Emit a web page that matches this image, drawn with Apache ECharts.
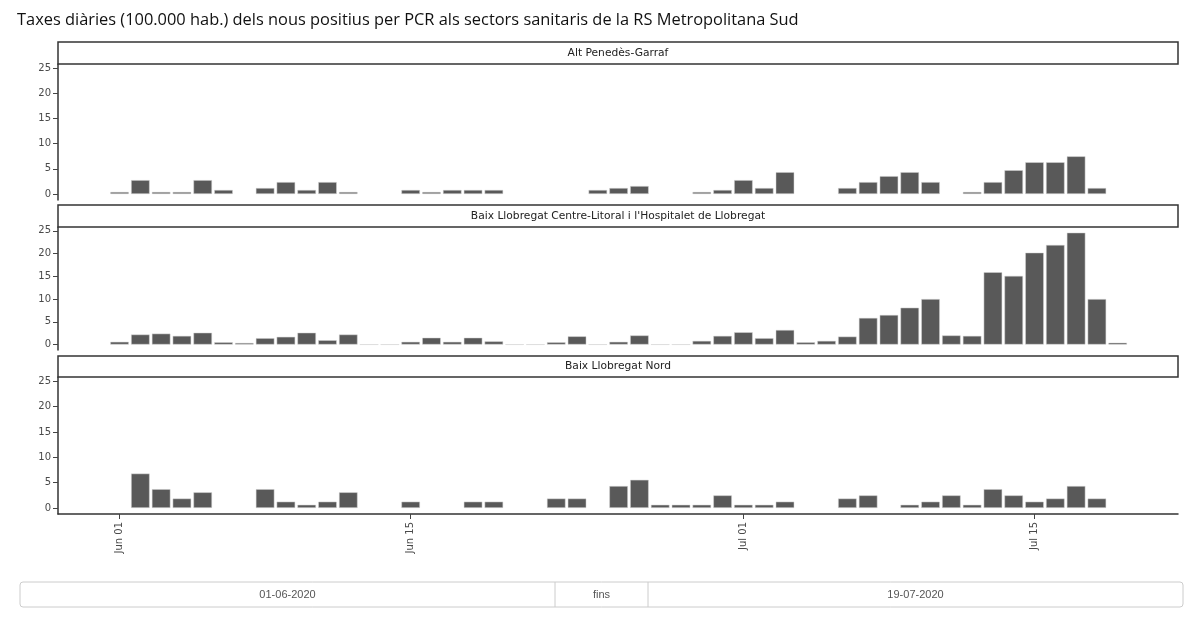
<!DOCTYPE html>
<html>
<head>
<meta charset="utf-8">
<script src="https://cdn.jsdelivr.net/npm/echarts@6/dist/echarts.min.js"></script>
<style>
  html, body { margin: 0; padding: 0; background: #fff; }
  #chart { width: 1200px; height: 622px; }
</style>
</head>
<body>
<div id="chart"></div>
<script>
// dies (categories)
const dates = [
  '2020-06-01','2020-06-02','2020-06-03','2020-06-04','2020-06-05','2020-06-06','2020-06-07',
  '2020-06-08','2020-06-09','2020-06-10','2020-06-11','2020-06-12','2020-06-13','2020-06-14',
  '2020-06-15','2020-06-16','2020-06-17','2020-06-18','2020-06-19','2020-06-20','2020-06-21',
  '2020-06-22','2020-06-23','2020-06-24','2020-06-25','2020-06-26','2020-06-27','2020-06-28',
  '2020-06-29','2020-06-30','2020-07-01','2020-07-02','2020-07-03','2020-07-04','2020-07-05',
  '2020-07-06','2020-07-07','2020-07-08','2020-07-09','2020-07-10','2020-07-11','2020-07-12',
  '2020-07-13','2020-07-14','2020-07-15','2020-07-16','2020-07-17','2020-07-18','2020-07-19'
];

// sectors (facet strips)
const sectors = [
  'Alt Penedès-Garraf',
  "Baix Llobregat Centre-Litoral i l'Hospitalet de Llobregat",
  'Baix Llobregat Nord'
];

// taxes per 100.000 hab. (null = sense dada)
const altPenedes = [
  0.39, 2.75, 0.39, 0.39, 2.75, 0.79, null,
  1.18, 2.36, 0.79, 2.36, 0.39, null, null,
  0.79, 0.39, 0.79, 0.79, 0.79, null, null,
  null, null, 0.79, 1.18, 1.57, null, null,
  0.39, 0.79, 2.75, 1.18, 4.33, null, null,
  1.18, 2.36, 3.54, 4.33, 2.36, null, 0.39,
  2.36, 4.72, 6.3, 6.3, 7.48, 1.18, null
];
const baixCentre = [
  0.6, 2.2, 2.4, 1.9, 2.6, 0.5, 0.35,
  1.4, 1.7, 2.6, 0.95, 2.2, 0, 0,
  0.6, 1.5, 0.6, 1.5, 0.7, 0, 0,
  0.5, 1.8, 0, 0.6, 2.0, 0, 0,
  0.8, 1.9, 2.7, 1.4, 3.2, 0.5, 0.8,
  1.75, 5.85, 6.5, 8.1, 10.0, 2.0, 1.9,
  15.9, 15.1, 20.2, 21.9, 24.6, 10.0, 0.4
];
const baixNord = [
  null, 6.78, 3.7, 1.85, 3.08, null, null,
  3.7, 1.23, 0.62, 1.23, 3.08, null, null,
  1.23, null, null, 1.23, 1.23, null, null,
  1.85, 1.85, null, 4.32, 5.55, 0.62, 0.62,
  0.62, 2.47, 0.62, 0.62, 1.23, null, null,
  1.85, 2.47, null, 0.62, 1.23, 2.47, 0.62,
  3.7, 2.47, 1.23, 1.85, 4.32, 1.85, null
];

// ticks
const xTickDates = ['2020-06-01', '2020-06-15', '2020-07-01', '2020-07-15'];
const xTickLabels = ['Jun 01', 'Jun 15', 'Jul 01', 'Jul 15'];
const yTicks = [0, 5, 10, 15, 20, 25];

const titleText = 'Taxes diàries (100.000 hab.) dels nous positius per PCR als sectors sanitaris de la RS Metropolitana Sud';
const rangeFrom = '01-06-2020';
const rangeSep = 'fins';
const rangeTo = '19-07-2020';

// eix x en dies des de la primera data
const xTickPos = xTickDates.map(d => dates.indexOf(d));
const xMin = -2.96;
const xMax = 50.9;

// panell: [top, height, strip top]
const panels = [
  { top: 64, height: 136, strip: 42 },
  { top: 227, height: 123, strip: 205 },
  { top: 377, height: 137, strip: 356 }
];
const allSeries = [altPenedes, baixCentre, baixNord];

const LEFT = 58, RIGHT = 1178;

const option = {
  animation: false,
  title: {
    text: titleText,
    left: 12,
    top: 7,
    textStyle: { fontFamily: 'Open Sans', fontSize: 16.4, fontWeight: 'normal', color: '#111' }
  },
  grid: panels.map(p => ({ left: LEFT, width: RIGHT - LEFT, top: p.top, height: p.height })),
  xAxis: panels.map((p, i) => {
    const last = i === panels.length - 1;
    return {
      type: 'value',
      gridIndex: i,
      min: xMin,
      max: xMax,
      show: last,
      splitLine: { show: false },
      axisLine: { show: true, onZero: false, lineStyle: { color: '#333', width: 1.5 } },
      axisTick: { show: true, length: 5, lineStyle: { color: '#444' }, customValues: xTickPos },
      axisLabel: {
        show: true,
        rotate: 90,
        fontSize: 10,
        color: '#4a4a4a',
        fontFamily: 'DejaVu Sans',
        margin: 8,
        customValues: xTickPos,
        formatter: v => {
          const k = xTickPos.indexOf(Math.round(v));
          return k >= 0 ? xTickLabels[k] : '';
        }
      }
    };
  }),
  yAxis: panels.map((p, i) => ({
    type: 'value',
    gridIndex: i,
    min: -1.2,
    max: 25.85,
    splitLine: { show: false },
    axisLine: { show: true, onZero: false, lineStyle: { color: '#333', width: 1.5 } },
    axisTick: { show: true, length: 5, lineStyle: { color: '#444' }, customValues: yTicks },
    axisLabel: {
      fontSize: 10,
      color: '#4a4a4a',
      fontFamily: 'DejaVu Sans',
      margin: 7,
      customValues: yTicks
    }
  })),
  series: allSeries.map((vals, i) => ({
    name: sectors[i],
    type: 'bar',
    xAxisIndex: i,
    yAxisIndex: i,
    barWidth: 18.5,
    data: vals.map((v, k) => [k, v === null ? '-' : v]),
    itemStyle: { color: '#595959', borderColor: '#d4d4d4', borderWidth: 0.5 }
  })),
  graphic: []
};

// strips
panels.forEach((p, i) => {
  option.graphic.push({
    type: 'rect',
    shape: { x: LEFT, y: p.strip, width: RIGHT - LEFT, height: p.top - p.strip },
    style: { fill: '#fff', stroke: '#333', lineWidth: 1.5 },
    z: 10
  });
  option.graphic.push({
    type: 'text',
    x: (LEFT + RIGHT) / 2,
    y: (p.strip + p.top) / 2,
    style: {
      text: sectors[i],
      fill: '#222',
      font: '10.7px "DejaVu Sans"',
      align: 'center',
      verticalAlign: 'middle'
    },
    z: 11
  });
});

// selector de dates
const box = { x: 20, y: 582, w: 1163, h: 25, d1: 555, d2: 648 };
option.graphic.push(
  {
    type: 'rect',
    shape: { x: box.x, y: box.y, width: box.w, height: box.h, r: 3 },
    style: { fill: '#fff', stroke: '#ccc', lineWidth: 1 }
  },
  { type: 'line', shape: { x1: box.d1, y1: box.y, x2: box.d1, y2: box.y + box.h }, style: { stroke: '#ccc', lineWidth: 1 } },
  { type: 'line', shape: { x1: box.d2, y1: box.y, x2: box.d2, y2: box.y + box.h }, style: { stroke: '#ccc', lineWidth: 1 } },
  {
    type: 'text', x: (box.x + box.d1) / 2, y: box.y + box.h / 2,
    style: { text: rangeFrom, fill: '#555', font: '11px "Liberation Sans"', align: 'center', verticalAlign: 'middle' }
  },
  {
    type: 'text', x: (box.d1 + box.d2) / 2, y: box.y + box.h / 2,
    style: { text: rangeSep, fill: '#555', font: '11px "Liberation Sans"', align: 'center', verticalAlign: 'middle' }
  },
  {
    type: 'text', x: (box.d2 + box.x + box.w) / 2, y: box.y + box.h / 2,
    style: { text: rangeTo, fill: '#555', font: '11px "Liberation Sans"', align: 'center', verticalAlign: 'middle' }
  }
);

const chart = echarts.init(document.getElementById('chart'));
chart.setOption(option);
</script>
</body>
</html>
